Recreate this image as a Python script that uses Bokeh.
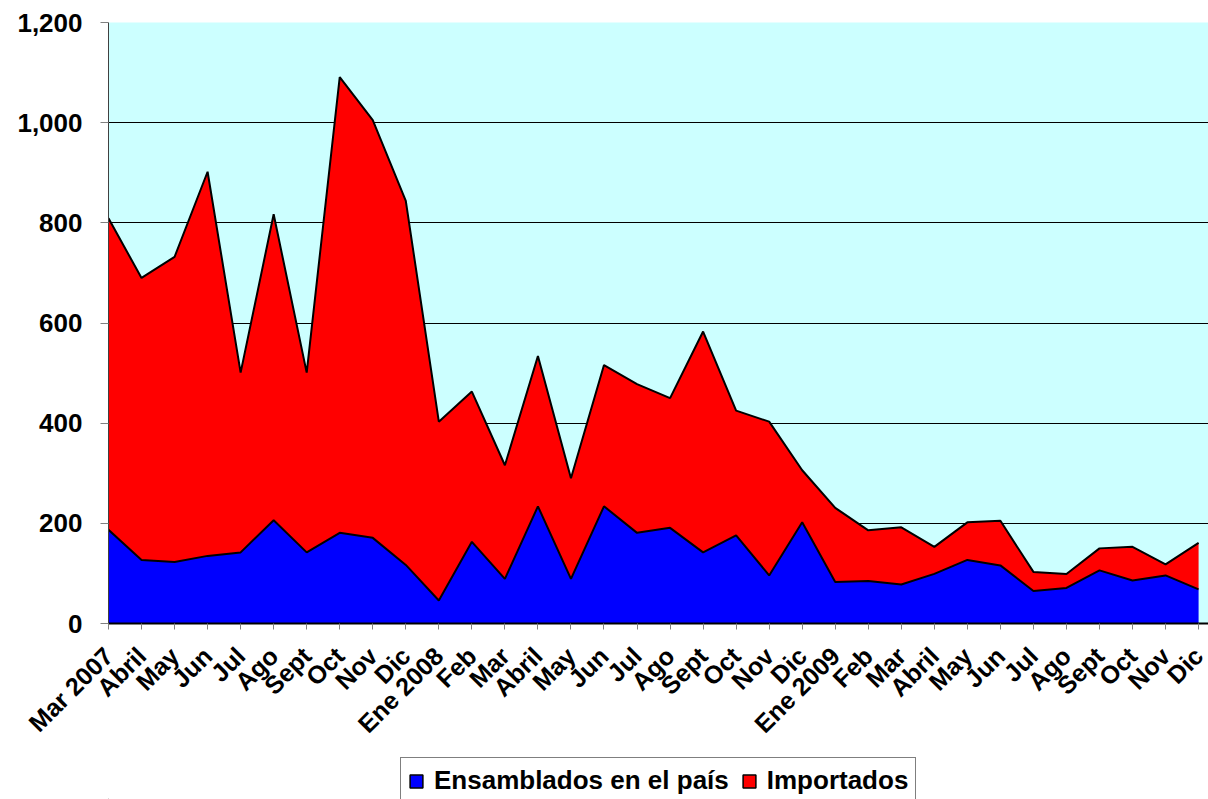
import math
from bokeh.plotting import figure
from bokeh.layouts import column
from bokeh.models import (ColumnDataSource, Range1d, FixedTicker, NumeralTickFormatter,
                          Legend, LegendItem)
from bokeh.embed import file_html
from bokeh.resources import INLINE

categorias = ["Mar 2007", "Abril", "May", "Jun", "Jul", "Ago", "Sept", "Oct", "Nov", "Dic",
              "Ene 2008", "Feb", "Mar", "Abril", "May", "Jun", "Jul", "Ago", "Sept", "Oct", "Nov", "Dic",
              "Ene 2009", "Feb", "Mar", "Abril", "May", "Jun", "Jul", "Ago", "Sept", "Oct", "Nov", "Dic"]
ensamblados = [187, 127, 123, 135, 142, 206, 142, 181, 171, 117,
               46, 163, 89, 234, 89, 234, 181, 191, 142, 176, 96, 202,
               83, 85, 78, 99, 127, 116, 65, 71, 106, 86, 96, 68]
importados = [622, 563, 609, 767, 359, 611, 359, 910, 834, 727,
              357, 300, 227, 300, 201, 282, 297, 259, 441, 249, 307, 104,
              148, 101, 114, 54, 75, 89, 38, 28, 44, 67, 22, 93]
y_ticks = [0, 200, 400, 600, 800, 1000, 1200]
series_names = ["Ensamblados en el país", "Importados"]
series_colors = ["#0000FF", "#FF0000"]

FONT = "Liberation Sans"
x = list(range(len(categorias)))
source = ColumnDataSource(dict(x=x, ens=ensamblados, imp=importados))

p = figure(width=1208, height=750, output_backend="svg", toolbar_location=None,
           x_range=Range1d(0, 33.3), y_range=Range1d(0, 1200),
           min_border_left=108, min_border_right=0, min_border_top=22, min_border_bottom=127)
p.background_fill_color = "#CCFFFF"
p.border_fill_color = "white"
p.outline_line_color = None

p.varea_stack(["ens", "imp"], x="x", color=series_colors, source=source)
p.vline_stack(["ens", "imp"], x="x", color="black", line_width=2, source=source)

p.xgrid.visible = False
p.ygrid.ticker = FixedTicker(ticks=y_ticks[1:])
p.ygrid.grid_line_color = "black"
p.ygrid.grid_line_width = 1

ya = p.yaxis[0]
ya.ticker = FixedTicker(ticks=y_ticks)
ya.formatter = NumeralTickFormatter(format="0,0")
ya.major_label_text_font = FONT
ya.major_label_text_font_style = "bold"
ya.major_label_text_font_size = "26px"
ya.major_label_text_color = "black"
ya.major_tick_out = 8
ya.major_tick_in = 0
ya.minor_tick_out = 0
ya.minor_tick_in = 0
ya.major_label_standoff = 18
ya.axis_line_color = "#404040"
ya.major_tick_line_color = "#808080"

xa = p.xaxis[0]
xa.ticker = FixedTicker(ticks=x)
xa.major_label_overrides = {i: c for i, c in enumerate(categorias)}
xa.major_label_orientation = math.pi / 4
xa.major_label_text_font = FONT
xa.major_label_text_font_style = "bold"
xa.major_label_text_font_size = "25px"
xa.major_label_text_color = "black"
xa.major_tick_out = 6
xa.major_tick_in = 0
xa.minor_tick_out = 0
xa.minor_tick_in = 0
xa.major_label_standoff = 22
xa.axis_line_color = "black"
xa.axis_line_width = 2
xa.major_tick_line_color = "#808080"

# legend strip below the chart (swatch proxies sit outside the strip's visible range)
pl = figure(width=1208, height=49, output_backend="svg", toolbar_location=None,
            x_range=Range1d(0, 1), y_range=Range1d(0, 1),
            min_border_left=0, min_border_right=0, min_border_top=0, min_border_bottom=0)
pl.axis.visible = False
pl.grid.visible = False
pl.outline_line_color = None
pl.background_fill_color = "white"
swatches = [pl.block(x=[-5], y=[-5], width=[0.1], height=[0.1], fill_color=c,
                     line_color="black", line_width=1.5)
            for c in series_colors]
legend = Legend(items=[LegendItem(label=n, renderers=[r]) for n, r in zip(series_names, swatches)],
                orientation="horizontal", location=(292, -5))
legend.label_text_font = FONT
legend.label_text_font_style = "bold"
legend.label_text_font_size = "26px"
legend.label_text_color = "black"
legend.border_line_color = "black"
legend.border_line_width = 1
legend.background_fill_color = "white"
legend.background_fill_alpha = 1
legend.glyph_width = 16
legend.glyph_height = 16
legend.padding = 7
legend.spacing = 12
legend.label_standoff = 10
legend.margin = 0
pl.add_layout(legend, "center")

open("out.html", "w").write(file_html(column(p, pl, spacing=0), INLINE))
